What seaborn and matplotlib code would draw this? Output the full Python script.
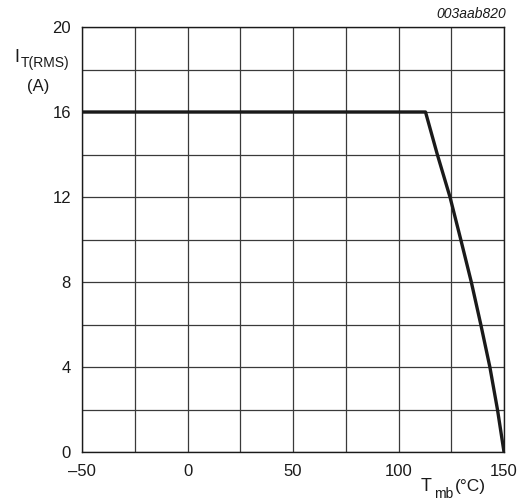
import pandas as pd
import matplotlib
matplotlib.use('Agg')
import matplotlib.pyplot as plt
import seaborn as sns

# derating curve
temp_mb = [-50, 112.8, 118.4, 124.4, 129.5, 134.5, 139.0, 143.3, 146.9, 150]
it_rms = [16, 16, 14, 12, 10, 8, 6, 4, 2, 0]

x_ticks = [-50, 0, 50, 100, 150]
y_ticks = [0, 4, 8, 12, 16, 20]

data = pd.DataFrame({'Tmb': temp_mb, 'IT': it_rms})

sns.set_style('white')
plt.rcParams['font.family'] = ['Liberation Sans', 'DejaVu Sans']

fig = plt.figure(figsize=(5.24, 5.03), dpi=100)
ax = fig.add_axes([82 / 524, 51 / 503, 422 / 524, 425 / 503])

sns.lineplot(x='Tmb', y='IT', data=data, ax=ax, color='#1a1a1a',
             linewidth=2.4, sort=False, zorder=3)

def fmt(v):
    return str(v).replace('-', '\u2013')

ax.set_xlim(-50, 150)
ax.set_ylim(0, 20)
ax.set_xticks(range(-50, 151, 25))
ax.set_yticks(range(0, 21, 2))
ax.set_xticklabels([fmt(v) if v in x_ticks else '' for v in range(-50, 151, 25)])
ax.set_yticklabels([fmt(v) if v in y_ticks else '' for v in range(0, 21, 2)])
ax.grid(True, color='#3a3a3a', linewidth=0.9)
ax.tick_params(axis='x', length=0, pad=8.5, labelsize=12, colors='#1a1a1a')
ax.tick_params(axis='y', length=2, width=0.9, pad=6, labelsize=12, colors='#1a1a1a')
for s in ax.spines.values():
    s.set_color('#1a1a1a')
    s.set_linewidth(1.0)
ax.set_xlabel('')
ax.set_ylabel('')

# axis titles
fig.text(14 / 524, 1 - 61.5 / 503, 'I', fontsize=13, color='#1a1a1a')
fig.text(20.5 / 524, 1 - 67 / 503, 'T(RMS)', fontsize=10, color='#1a1a1a')
fig.text(38.5 / 524, 1 - 91.5 / 503, '(A)', fontsize=12, color='#1a1a1a', ha='center')

fig.text(421 / 524, 1 - 491 / 503, 'T', fontsize=13, color='#1a1a1a')
fig.text(434 / 524, 1 - 498 / 503, 'mb', fontsize=10, color='#1a1a1a')
fig.text(455 / 524, 1 - 491 / 503, '(°C)', fontsize=12.5, color='#1a1a1a')

fig.text(506 / 524, 1 - 18 / 503, '003aab820', fontsize=10, style='italic',
         color='#1a1a1a', ha='right')

fig.savefig('out.png', dpi=100)
